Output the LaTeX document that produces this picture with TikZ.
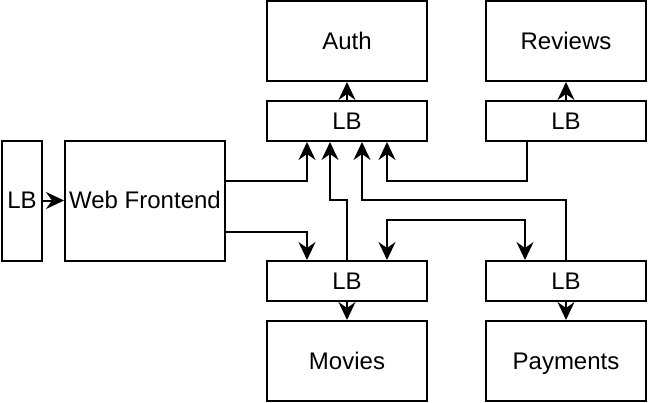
\documentclass[tikz,border=0pt]{standalone}
\usepackage{fontspec}
\setmainfont{Liberation Sans}
\usetikzlibrary{arrows.meta,calc}

\begin{document}
\begin{tikzpicture}
[>={Stealth[length=9pt,width=8.5pt,inset=3pt]},
  lineDecorate/.style={->,line width=1pt},%
  nodeDecorate/.style={shape=rectangle,inner sep=0pt,draw,line width=1pt,text height=0.72em,text depth=0.02em},
  x=0.5pt,y=0.5pt]
\fontsize{12}{14}\selectfont
\useasboundingbox (0,0) rectangle (648,-402);
%% nodes or vertices
\foreach \nodename/\x/\y/\w/\h/\lbl in {
  lbIn/22/-200.5/40/120/LB,
  web/145/-200.5/160/120/Web Frontend,
  auth/347/-41/160/80/Auth,
  reviews/566/-41/160/80/Reviews,
  authLB/347/-121/160/40/LB,
  reviewsLB/566/-121/160/40/LB,
  moviesLB/347/-281/160/40/LB,
  paymentsLB/566/-281/160/40/LB,
  movies/347/-361/160/80/Movies,
  payments/566/-361/160/80/Payments}
{
  \node (\nodename) at (\x,\y) [nodeDecorate,minimum width=\w*0.5pt,minimum height=\h*0.5pt] {\lbl};
}
%% straight edges
\path
\foreach \startnode/\endnode in {lbIn/web, authLB/auth, reviewsLB/reviews, moviesLB/movies, paymentsLB/payments}
{
  (\startnode) edge[lineDecorate] (\endnode)
};
%% routed edges
\draw[lineDecorate] ($(web.east)+(0,20)$) -| ($(authLB.south)+(-40,0)$);
\draw[lineDecorate] ($(web.east)+(0,-31)$) -| ($(moviesLB.north)+(-40,0)$);
\draw[lineDecorate] (moviesLB.north) -- ++(0,60) -| ($(authLB.south)+(-17,0)$);
\draw[lineDecorate] (paymentsLB.north) -- ++(0,60) -| ($(authLB.south)+(15,0)$);
\draw[lineDecorate] ($(reviewsLB.south)+(-39,0)$) -- ++(0,-39) -| ($(authLB.south)+(40,0)$);
\draw[lineDecorate,<->] ($(moviesLB.north)+(40,0)$) -- ++(0,40) -| ($(paymentsLB.north)+(-41,0)$);
\end{tikzpicture}
\end{document}
